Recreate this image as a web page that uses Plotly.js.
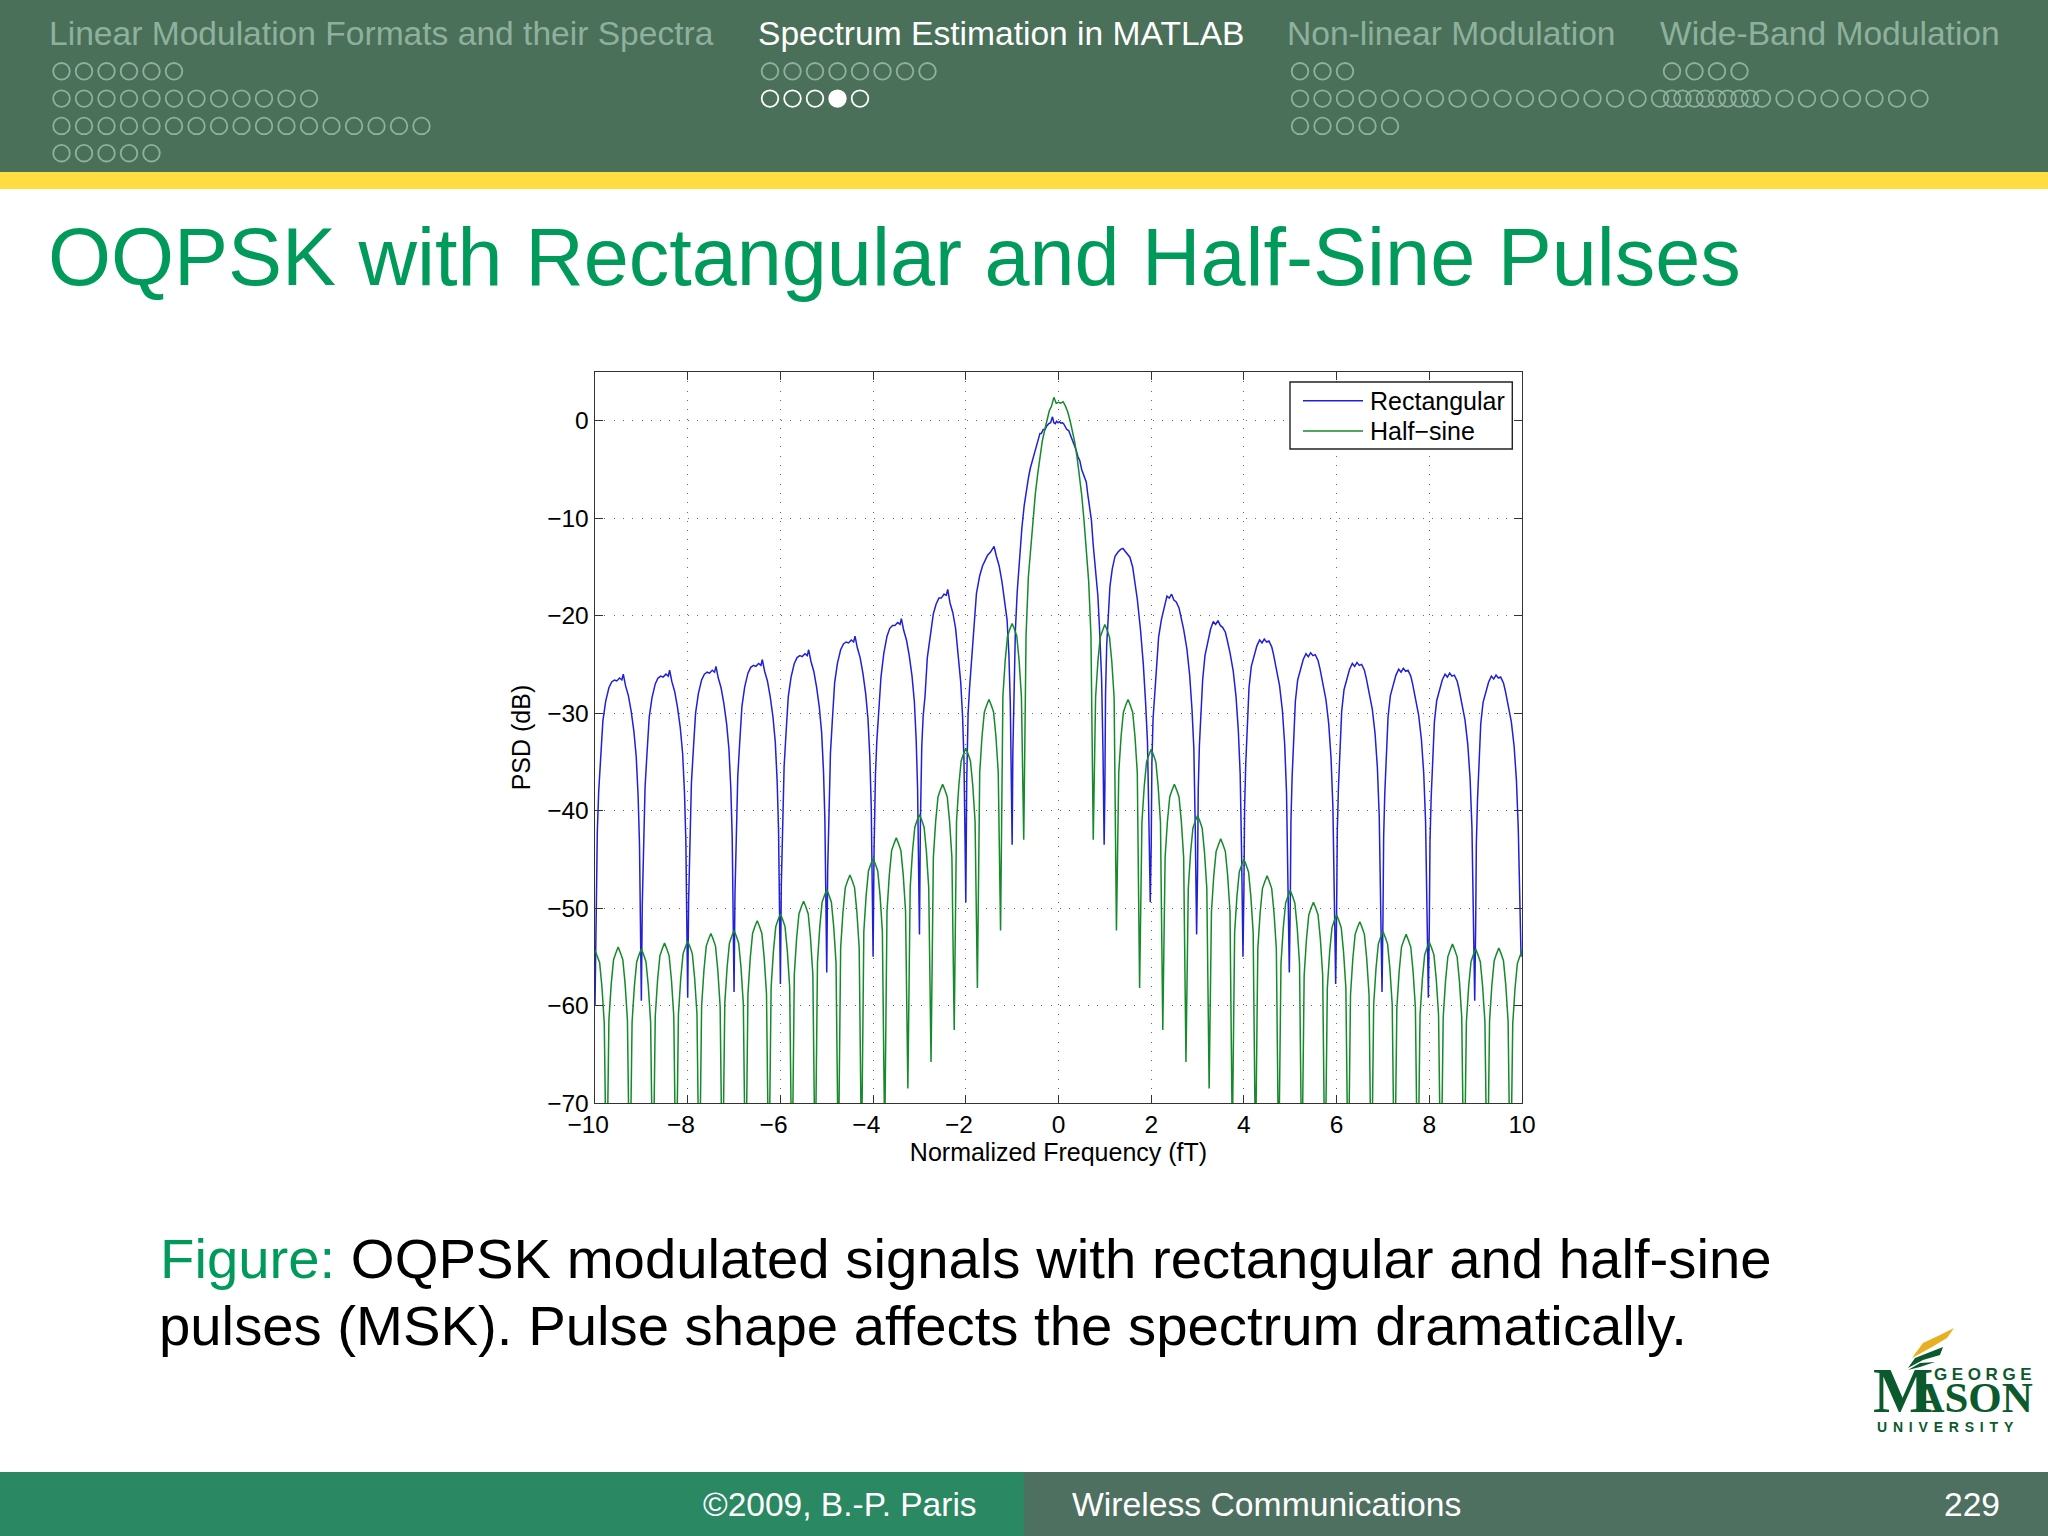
<!DOCTYPE html>
<html><head><meta charset="utf-8">
<script src="https://cdn.plot.ly/plotly-3.0.1.min.js"></script>
<style>html,body{margin:0;padding:0;background:#fff}#p{width:2048px;height:1536px}</style></head>
<body><div id="p"></div>
<script>
const seriesNames = ["Rectangular", "Half\u2212sine"];
const xTicks = [-10,-8,-6,-4,-2,0,2,4,6,8,10];
const xTickLabels = ["\u221210\u00a0\u00a0","\u22128\u00a0\u00a0","\u22126\u00a0\u00a0","\u22124\u00a0\u00a0","\u22122\u00a0\u00a0","0","2","4","6","8","10"];
const yTicks = [-70,-60,-50,-40,-30,-20,-10,0];

const blueFreq = [
-10,-9.98,-9.95,-9.92,-9.88,-9.83,-9.77,-9.70,-9.64,-9.58,-9.53,-9.47,-9.42,-9.39,-9.34,-9.28,-9.22,-9.16,-9.11,-9.07,-9.04,-9.015,
-9,-8.98,-8.95,-8.92,-8.88,-8.83,-8.77,-8.70,-8.64,-8.58,-8.53,-8.47,-8.42,-8.39,-8.34,-8.28,-8.22,-8.16,-8.11,-8.07,-8.04,-8.015,
-8,-7.98,-7.95,-7.92,-7.88,-7.83,-7.77,-7.70,-7.64,-7.58,-7.53,-7.47,-7.42,-7.39,-7.34,-7.28,-7.22,-7.16,-7.11,-7.07,-7.04,-7.015,
-7,-6.98,-6.95,-6.92,-6.88,-6.83,-6.77,-6.70,-6.64,-6.58,-6.53,-6.47,-6.42,-6.39,-6.34,-6.28,-6.22,-6.16,-6.11,-6.07,-6.04,-6.015,
-6,-5.98,-5.95,-5.92,-5.88,-5.83,-5.77,-5.70,-5.64,-5.58,-5.53,-5.47,-5.42,-5.39,-5.34,-5.28,-5.22,-5.16,-5.11,-5.07,-5.04,-5.015,
-5,-4.98,-4.95,-4.92,-4.88,-4.83,-4.77,-4.70,-4.64,-4.58,-4.53,-4.47,-4.42,-4.39,-4.34,-4.28,-4.22,-4.16,-4.11,-4.07,-4.04,-4.015,
-4,-3.98,-3.95,-3.92,-3.88,-3.83,-3.77,-3.70,-3.64,-3.58,-3.53,-3.47,-3.42,-3.39,-3.34,-3.28,-3.22,-3.16,-3.11,-3.07,-3.04,-3.015,
-3,-2.98,-2.95,-2.92,-2.88,-2.83,-2.77,-2.70,-2.64,-2.58,-2.53,-2.47,-2.42,-2.39,-2.34,-2.28,-2.22,-2.16,-2.11,-2.07,-2.04,-2.015,
-2,-1.98,-1.95,-1.92,-1.88,-1.83,-1.77,-1.70,-1.64,-1.58,-1.53,-1.47,-1.42,-1.39,-1.34,-1.28,-1.22,-1.16,-1.11,-1.07,-1.04,-1.015,
-1,-.985,-.96,-.93,-.89,-.84,-.79,-.74,-.69,-.65,-.61,-.57,-.53,-.49,-.46,-.43,-.40,-.37,-.33,-.29,-.25,-.21,-.17,-.13,-.10,-.07,-.04,-.01,.02,.05,.08,.11,.14,.18,.22,.26,.30,.34,.38,.42,.46,.50,.55,.60,.63,.67,.71,.75,.80,.85,.89,.93,.96,.985,
1,1.015,1.04,1.07,1.11,1.16,1.22,1.28,1.34,1.39,1.44,1.49,1.54,1.60,1.64,1.70,1.77,1.83,1.88,1.92,1.95,1.98,
2,2.015,2.04,2.07,2.11,2.16,2.22,2.28,2.34,2.39,2.44,2.49,2.54,2.60,2.64,2.70,2.77,2.83,2.88,2.92,2.95,2.98,
3,3.015,3.04,3.07,3.11,3.16,3.22,3.28,3.34,3.39,3.44,3.49,3.54,3.60,3.64,3.70,3.77,3.83,3.88,3.92,3.95,3.98,
4,4.015,4.04,4.07,4.11,4.16,4.22,4.28,4.34,4.39,4.44,4.49,4.54,4.60,4.64,4.70,4.77,4.83,4.88,4.92,4.95,4.98,
5,5.015,5.04,5.07,5.11,5.16,5.22,5.28,5.34,5.39,5.44,5.49,5.54,5.60,5.64,5.70,5.77,5.83,5.88,5.92,5.95,5.98,
6,6.015,6.04,6.07,6.11,6.16,6.22,6.28,6.34,6.39,6.44,6.49,6.54,6.60,6.64,6.70,6.77,6.83,6.88,6.92,6.95,6.98,
7,7.015,7.04,7.07,7.11,7.16,7.22,7.28,7.34,7.39,7.44,7.49,7.54,7.60,7.64,7.70,7.77,7.83,7.88,7.92,7.95,7.98,
8,8.015,8.04,8.07,8.11,8.16,8.22,8.28,8.34,8.39,8.44,8.49,8.54,8.60,8.64,8.70,8.77,8.83,8.88,8.92,8.95,8.98,
9,9.015,9.04,9.07,9.11,9.16,9.22,9.28,9.34,9.39,9.44,9.49,9.54,9.60,9.64,9.70,9.77,9.83,9.88,9.92,9.95,9.98,
10];

const bluePsd = [
-60,-50,-42.1,-38,-34.7,-30.8,-28.8,-27.4,-26.8,-26.6,-26.7,-26.4,-26.6,-26,-27.2,-28.2,-29.8,-31.9,-34.5,-38.5,-43.5,-52,
-59.5,-49.6,-41.7,-37.6,-34.3,-30.4,-28.4,-27,-26.4,-26.2,-26.3,-26,-26.2,-25.6,-26.8,-27.8,-29.4,-31.5,-34.1,-38.1,-43.1,-51.6,
-59.2,-49.2,-41.3,-37.2,-33.9,-30,-28,-26.6,-26,-25.8,-25.9,-25.6,-25.8,-25.2,-26.4,-27.4,-29,-31.1,-33.7,-37.7,-42.7,-51.2,
-58.6,-48.5,-40.6,-36.5,-33.2,-29.3,-27.3,-25.9,-25.3,-25.1,-25.2,-24.9,-25.1,-24.5,-25.7,-26.7,-28.3,-30.4,-33,-37,-42,-50.5,
-57.8,-47.5,-39.6,-35.5,-32.2,-28.3,-26.3,-24.9,-24.3,-24.1,-24.2,-23.9,-24.1,-23.5,-24.7,-25.7,-27.3,-29.4,-32,-36,-41,-49.5,
-56.6,-46.1,-38.2,-34.1,-30.8,-26.9,-24.9,-23.5,-22.9,-22.7,-22.8,-22.5,-22.7,-22.1,-23.3,-24.3,-25.9,-28,-30.6,-34.6,-39.6,-48.1,
-55,-44.3,-36.4,-32.9,-30.3,-26.3,-23.9,-22.1,-21.3,-21,-21,-20.7,-20.9,-20.3,-21.5,-22.5,-24.1,-26.2,-28.8,-32.8,-37.8,-46.3,
-52.7,-41.3,-33.4,-30.3,-28.3,-24.3,-22.1,-19.8,-18.8,-18.2,-18.2,-17.8,-17.9,-17.3,-18.7,-19.7,-21.3,-24,-26.8,-30.3,-34.8,-43.3,
-49.4,-36.9,-30,-27.5,-24.8,-20.9,-17.7,-15.9,-14.9,-14.3,-13.8,-13.5,-13.2,-12.9,-13.9,-14.9,-16.5,-18.9,-20.4,-24,-29,-38,
-43.5,-34,-26.5,-21.5,-17.5,-13.8,-11,-8.7,-6.9,-5.9,-4.9,-4.2,-3.5,-3,-2.3,-1.8,-1.3,-1.3,-.9,-.9,-.5,-.3,-.2,.4,-.2,-.3,-.05,-.2,-.1,-.25,-.2,-.3,-.6,-.9,-1,-1.5,-1.9,-2.5,-3,-3.7,-4.1,-5,-5.7,-6.3,-7.5,-8.8,-10.2,-12.8,-15.4,-18,-21.8,-26.5,-34,
-43.5,-38,-28,-23,-20,-17,-15.2,-13.9,-13.5,-13.2,-13.1,-13.4,-13.6,-14,-15,-16.2,-18.3,-21.5,-25,-29,-33,-41,
-49.4,-43.6,-35.1,-30.6,-28.6,-25.1,-22.2,-20.4,-19.1,-18,-18.2,-17.8,-18.4,-18.6,-19.2,-20.1,-21.4,-23.4,-26.1,-29.6,-33.6,-41.6,
-52.7,-46.3,-37.8,-33.3,-30.3,-26.6,-24.1,-22.6,-21.4,-20.6,-20.9,-20.5,-21,-21.2,-21.7,-22.5,-23.8,-25.7,-28.3,-31.8,-36.3,-44.3,
-55,-48.2,-39.7,-35.2,-31.2,-27.4,-25.2,-24,-23.1,-22.5,-22.8,-22.4,-22.7,-22.6,-23.2,-24,-25.4,-27.2,-29.7,-33.2,-38.2,-46.2,
-56.6,-49.6,-41.1,-36.6,-32.6,-28.8,-26.6,-25.4,-24.5,-23.9,-24.2,-23.8,-24.1,-24,-24.6,-25.4,-26.8,-28.6,-31.1,-34.6,-39.6,-47.6,
-57.8,-50.6,-42.1,-37.6,-33.6,-29.8,-27.6,-26.4,-25.5,-24.9,-25.2,-24.8,-25.1,-25,-25.6,-26.4,-27.8,-29.6,-32.1,-35.6,-40.6,-48.6,
-58.6,-51.2,-42.7,-38.2,-34.2,-30.4,-28.2,-27,-26.1,-25.5,-25.8,-25.4,-25.7,-25.6,-26.2,-27,-28.4,-30.2,-32.7,-36.2,-41.2,-49.2,
-59.2,-51.7,-43.2,-38.7,-34.7,-30.9,-28.7,-27.5,-26.6,-26,-26.3,-25.9,-26.2,-26.1,-26.7,-27.5,-28.9,-30.7,-33.2,-36.7,-41.7,-49.7,
-59.5,-51.9,-43.4,-38.9,-34.9,-31.1,-28.9,-27.7,-26.8,-26.2,-26.5,-26.1,-26.4,-26.3,-26.9,-27.7,-29.1,-30.9,-33.4,-36.9,-41.9,-49.9,
-55];

const greenFreq = [
-10,-9.95,-9.9,-9.85,-9.8,-9.75,
-9.7,-9.65,-9.6,-9.55,-9.5,-9.45,-9.4,-9.35,-9.3,-9.25,
-9.2,-9.15,-9.1,-9.05,-9,-8.95,-8.9,-8.85,-8.8,-8.75,
-8.7,-8.65,-8.6,-8.55,-8.5,-8.45,-8.4,-8.35,-8.3,-8.25,
-8.2,-8.15,-8.1,-8.05,-8,-7.95,-7.9,-7.85,-7.8,-7.75,
-7.7,-7.65,-7.6,-7.55,-7.5,-7.45,-7.4,-7.35,-7.3,-7.25,
-7.2,-7.15,-7.1,-7.05,-7,-6.95,-6.9,-6.85,-6.8,-6.75,
-6.7,-6.65,-6.6,-6.55,-6.5,-6.45,-6.4,-6.35,-6.3,-6.25,
-6.2,-6.15,-6.1,-6.05,-6,-5.95,-5.9,-5.85,-5.8,-5.75,
-5.7,-5.65,-5.6,-5.55,-5.5,-5.45,-5.4,-5.35,-5.3,-5.25,
-5.2,-5.15,-5.1,-5.05,-5,-4.95,-4.9,-4.85,-4.8,-4.75,
-4.7,-4.65,-4.6,-4.55,-4.5,-4.45,-4.4,-4.35,-4.3,-4.25,
-4.2,-4.15,-4.1,-4.05,-4,-3.95,-3.9,-3.85,-3.8,-3.75,
-3.7,-3.65,-3.6,-3.55,-3.5,-3.45,-3.4,-3.35,-3.3,-3.25,
-3.2,-3.15,-3.1,-3.05,-3,-2.95,-2.9,-2.85,-2.8,-2.75,
-2.7,-2.65,-2.6,-2.55,-2.5,-2.45,-2.4,-2.35,-2.3,-2.25,
-2.2,-2.15,-2.1,-2.05,-2,-1.95,-1.9,-1.85,-1.8,-1.75,
-1.7,-1.65,-1.6,-1.55,-1.5,-1.45,-1.4,-1.35,-1.3,-1.25,
-1.2,-1.15,-1.1,-1.05,-1,-.95,-.9,-.85,-.8,-.75,
-.7,-.65,-.6,-.55,-.5,-.45,-.4,-.35,-.3,-.25,-.2,-.15,-.1,-.05,0,.05,.1,.15,.2,.25,.3,.35,.4,.45,.5,.55,.6,.65,.7,.75,
.8,.85,.9,.95,1,1.05,1.1,1.15,1.2,1.25,
1.3,1.35,1.4,1.45,1.5,1.55,1.6,1.65,1.7,1.75,
1.8,1.85,1.9,1.95,2,2.05,2.1,2.15,2.2,2.25,
2.3,2.35,2.4,2.45,2.5,2.55,2.6,2.65,2.7,2.75,
2.8,2.85,2.9,2.95,3,3.05,3.1,3.15,3.2,3.25,
3.3,3.35,3.4,3.45,3.5,3.55,3.6,3.65,3.7,3.75,
3.8,3.85,3.9,3.95,4,4.05,4.1,4.15,4.2,4.25,
4.3,4.35,4.4,4.45,4.5,4.55,4.6,4.65,4.7,4.75,
4.8,4.85,4.9,4.95,5,5.05,5.1,5.15,5.2,5.25,
5.3,5.35,5.4,5.45,5.5,5.55,5.6,5.65,5.7,5.75,
5.8,5.85,5.9,5.95,6,6.05,6.1,6.15,6.2,6.25,
6.3,6.35,6.4,6.45,6.5,6.55,6.6,6.65,6.7,6.75,
6.8,6.85,6.9,6.95,7,7.05,7.1,7.15,7.2,7.25,
7.3,7.35,7.4,7.45,7.5,7.55,7.6,7.65,7.7,7.75,
7.8,7.85,7.9,7.95,8,8.05,8.1,8.15,8.2,8.25,
8.3,8.35,8.4,8.45,8.5,8.55,8.6,8.65,8.7,8.75,
8.8,8.85,8.9,8.95,9,9.05,9.1,9.15,9.2,9.25,
9.3,9.35,9.4,9.45,9.5,9.55,9.6,9.65,9.7,9.75,
9.8,9.85,9.9,9.95,10];

const greenPsd = [
-54.3,-54.9,-55.6,-58.1,-61.8,-80,
-61.5,-57.8,-55.3,-54.6,-54,-54.6,-55.3,-57.8,-61.5,-80,
-61.7,-58,-55.5,-54.8,-54.2,-54.8,-55.5,-58,-61.7,-80,
-61.1,-57.4,-54.9,-54.2,-53.6,-54.2,-54.9,-57.4,-61.1,-80,
-60.9,-57.2,-54.7,-54,-53.4,-54,-54.7,-57.2,-60.9,-80,
-60.1,-56.4,-53.9,-53.2,-52.6,-53.2,-53.9,-56.4,-60.1,-80,
-59.8,-56.1,-53.6,-52.9,-52.3,-52.9,-53.6,-56.1,-59.8,-80,
-58.8,-55.1,-52.6,-51.9,-51.3,-51.9,-52.6,-55.1,-58.8,-79,
-58.1,-54.4,-51.9,-51.2,-50.6,-51.2,-51.9,-54.4,-58.1,-79,
-56.8,-53.1,-50.6,-49.9,-49.3,-49.9,-50.6,-53.1,-56.8,-78,
-55.6,-51.9,-49.4,-48.7,-48.1,-48.7,-49.4,-51.9,-55.6,-77,
-54.1,-50.4,-47.9,-47.2,-46.6,-47.2,-47.9,-50.4,-54.1,-76,
-52.4,-48.7,-46.2,-45.5,-44.9,-45.5,-46.2,-48.7,-52.4,-74,
-50.3,-46.6,-44.1,-43.4,-42.8,-43.4,-44.1,-46.6,-50.3,-68.5,
-47.9,-44.2,-41.7,-41,-40.4,-41,-41.7,-44.2,-47.9,-65.8,
-44.8,-41.1,-38.6,-37.9,-37.3,-37.9,-38.6,-41.1,-44.8,-62.5,
-41.1,-37.4,-34.9,-34.2,-33.6,-34.2,-34.9,-37.4,-41.1,-58.2,
-36.1,-32.4,-29.9,-29.2,-28.6,-29.2,-29.9,-32.4,-36.1,-52.3,
-28.3,-24.6,-22.1,-21.4,-20.8,-21.4,-22.1,-24.6,-28.3,-43,
-22,-16,-13,-10,-7.5,-5.5,-3.6,-2.1,-1,.1,1,1.5,2.4,1.8,1.9,1.8,1.95,1.5,.9,0,-1,-2.2,-3.7,-5.5,-7.6,-10.2,-13.2,-16.4,-22,-43,
-28.4,-24.7,-22.2,-21.5,-20.9,-21.5,-22.2,-24.7,-28.4,-52.3,
-36.1,-32.4,-29.9,-29.2,-28.6,-29.2,-29.9,-32.4,-36.1,-58.2,
-41.2,-37.5,-35,-34.3,-33.7,-34.3,-35,-37.5,-41.2,-62.5,
-44.8,-41.1,-38.6,-37.9,-37.3,-37.9,-38.6,-41.1,-44.8,-65.8,
-48,-44.3,-41.8,-41.1,-40.5,-41.1,-41.8,-44.3,-48,-68.5,
-50.4,-46.7,-44.2,-43.5,-42.9,-43.5,-44.2,-46.7,-50.4,-74,
-52.5,-48.8,-46.3,-45.6,-45,-45.6,-46.3,-48.8,-52.5,-76,
-54.2,-50.5,-48,-47.3,-46.7,-47.3,-48,-50.5,-54.2,-77,
-55.7,-52,-49.5,-48.8,-48.2,-48.8,-49.5,-52,-55.7,-78,
-56.9,-53.2,-50.7,-50,-49.4,-50,-50.7,-53.2,-56.9,-79,
-58.2,-54.5,-52,-51.3,-50.7,-51.3,-52,-54.5,-58.2,-79,
-58.9,-55.2,-52.7,-52,-51.4,-52,-52.7,-55.2,-58.9,-80,
-59.9,-56.2,-53.7,-53,-52.4,-53,-53.7,-56.2,-59.9,-80,
-60.2,-56.5,-54,-53.3,-52.7,-53.3,-54,-56.5,-60.2,-80,
-61,-57.3,-54.8,-54.1,-53.5,-54.1,-54.8,-57.3,-61,-80,
-61.2,-57.5,-55,-54.3,-53.7,-54.3,-55,-57.5,-61.2,-80,
-61.7,-58,-55.5,-54.8,-54.2,-54.8,-55.5,-58,-61.7,-80,
-61.6,-57.9,-55.4,-54.7,-54.1,-54.7,-55.4,-57.9,-61.6,-80,
-61.9,-58.2,-55.7,-55,-54.4];

const navSections = ["Linear Modulation Formats and their Spectra","Spectrum Estimation in MATLAB","Non-linear Modulation","Wide-Band Modulation"];
const navTextX = [48,757,1286,1659];
const navDotX = [61.5,770,1300,1672];
const navRows = [[6,12,17,5],[8,5],[3,21,5],[4,12]];
const FS = "Liberation Sans, Arial, sans-serif";
const DOT = "#8fb09e";
const BLUE = "#2020d8", GREEN = "#158a2a", LOGO = "#0b5a2e";

const px = x => x/2048, py = y => 1-y/1536;
const rect = (x0,y0,x1,y1,c) => ({type:"rect",xref:"paper",yref:"paper",x0:px(x0),x1:px(x1),y0:py(y0),y1:py(y1),fillcolor:c,line:{width:0},layer:"below"});
const txt = (x,y,t,size,color,extra) => Object.assign({xref:"paper",yref:"paper",x:px(x),y:py(y),text:t,showarrow:false,xanchor:"left",yanchor:"middle",borderpad:0,font:{family:FS,size:size,color:color}},extra||{});
const poly = (pts,c) => ({type:"path",xref:"paper",yref:"paper",path:"M"+pts.map(p=>px(p[0]).toFixed(5)+","+py(p[1]).toFixed(5)).join("L")+"Z",fillcolor:c,line:{width:0}});
const hline = (x0,x1,y,c) => ({type:"line",xref:"paper",yref:"paper",x0:px(x0),x1:px(x1),y0:py(y),y1:py(y),line:{color:c,width:1.4}});

const shapes = [
  rect(0,0,2048,172,"#4a7059"),
  rect(0,172,2048,189,"#ffdc40"),
  rect(0,1472,1024,1536,"#2a8863"),
  rect(1024,1472,2048,1536,"#4e7060")
];
navRows.forEach((rows,s)=>{
  rows.forEach((n,r)=>{
    for(let i=0;i<n;i++){
      const cx=navDotX[s]+i*22.5, cy=71.3+r*27.3, on=(s===1&&r===1);
      const filled=on&&i===3;
      shapes.push({type:"circle",xref:"paper",yref:"paper",x0:px(cx-8.3),x1:px(cx+8.3),y0:py(cy+8.3),y1:py(cy-8.3),
        fillcolor:filled?"#ffffff":"rgba(0,0,0,0)",line:{color:on?"#ffffff":DOT,width:1.8}});
    }
  });
});
// legend box
shapes.push({type:"rect",xref:"paper",yref:"paper",x0:px(1290),x1:px(1512.3),y0:py(449),y1:py(382),fillcolor:"#fff",line:{color:"#222",width:1.4}});
shapes.push(hline(1303,1363,400.7,BLUE),hline(1303,1363,431,GREEN));
// logo swooshes
shapes.push(poly([[1912,1358],[1923,1343],[1940,1335],[1954,1328],[1947,1338],[1932,1347]],"#e8b020"));
shapes.push(poly([[1908,1368],[1915,1358],[1943,1347],[1940,1355],[1923,1360]],LOGO));
shapes.push(poly([[1908,1370],[1920,1363],[1935,1362],[1920,1367]],LOGO));

const annotations = navSections.map((t,i)=>txt(navTextX[i],33,t,33.6,i===1?"#ffffff":DOT));
annotations.push(
  txt(47,257,"OQPSK with Rectangular and Half-Sine Pulses",81,"#009a5a"),
  txt(159,1258,'<span style="color:#009a5a">Figure:</span> OQPSK modulated signals with rectangular and half-sine',56.3,"#000000"),
  txt(158,1325,"pulses (MSK). Pulse shape affects the spectrum dramatically.",56.3,"#000000"),
  txt(702,1504,"\u00a92009, B.-P. Paris",33.5,"#ffffff"),
  txt(1071,1504,"Wireless Communications",33.7,"#ffffff"),
  txt(1943,1504,"229",33.6,"#ffffff"),
  txt(1369,401,seriesNames[0],25,"#000000"),
  txt(1369,431,seriesNames[1],25,"#000000"),
  txt(1872,1390,'<b><span style="font-size:64px;letter-spacing:-20px">M</span>ASON</b>',43,LOGO,{font:{family:"Liberation Serif",size:43,color:LOGO}}),
  txt(1933,1374,'<b><span style="letter-spacing:4.6px">GEORGE</span></b>',17,LOGO),
  txt(1876,1427,'<b><span style="letter-spacing:5.8px">UNIVERSITY</span></b>',14,LOGO)
);

const tr = (x,y,name,color) => ({x:x,y:y,name:name,type:"scatter",mode:"lines",line:{color:color,width:1.5},hoverinfo:"skip"});
const data = [tr(blueFreq,bluePsd,seriesNames[0],BLUE),tr(greenFreq,greenPsd,seriesNames[1],GREEN)];

const axisCommon = {showline:true,linecolor:"#333333",linewidth:1.4,mirror:"allticks",ticks:"inside",ticklen:8,tickcolor:"#333333",tickwidth:1,
  showgrid:true,gridcolor:"#666666",griddash:"1px,8.3px",gridwidth:1,zeroline:false,tickfont:{family:FS,size:24.5,color:"#000"},automargin:false,fixedrange:true};
const layout = {
  width:2048,height:1536,margin:{l:0,r:0,t:0,b:0},paper_bgcolor:"#fff",plot_bgcolor:"#fff",
  xaxis:Object.assign({},axisCommon,{domain:[595/2048,1522/2048],range:[-10,10],tickmode:"array",tickvals:xTicks,ticktext:xTickLabels,ticklabelstandoff:-1,title:{text:"Normalized Frequency (fT)",font:{family:FS,size:25,color:"#000"},standoff:5}}),
  yaxis:Object.assign({},axisCommon,{domain:[1-1103/1536,1-372/1536],range:[-70,5],tickmode:"array",tickvals:yTicks,title:{text:"PSD (dB)",font:{family:FS,size:25,color:"#000"},standoff:9}}),
  showlegend:false,
  shapes:shapes,annotations:annotations
};
Plotly.newPlot("p",data,layout,{staticPlot:true,displayModeBar:false});
</script></body></html>
